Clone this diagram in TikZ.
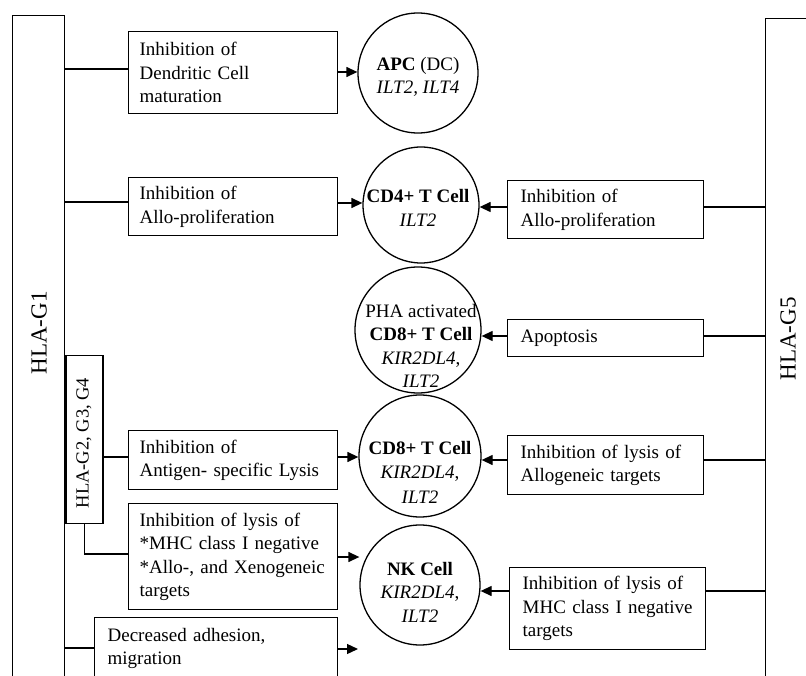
\documentclass[tikz,border=0pt]{standalone}
\usepackage{fontspec}
\setmainfont{Liberation Serif}
\usetikzlibrary{arrows.meta}
\newcommand{\boxfont}{\fontsize{19}{23.5}\selectfont}
\begin{document}
\begin{tikzpicture}[x=1pt,y=-1pt,line width=1.3pt,
  fbox/.style={draw, rectangle, anchor=north west, align=left, inner xsep=11pt, inner ysep=0pt, font=\boxfont, text width=187pt},
  rbox/.style={fbox, inner xsep=13pt, text width=170pt},
  cell/.style={draw, circle, inner sep=0pt},
  ctext/.style={align=center, font=\boxfont, inner sep=0pt},
  arr/.style={-{Triangle[length=11pt,width=10pt]}},
  side/.style={draw, rectangle, anchor=north west, inner sep=0pt}
]
\useasboundingbox (0,0) rectangle (806,676);
\fill[white] (0,0) rectangle (806,676);
\clip (0,0) rectangle (806,676);

% side bars
\node[side, minimum width=52pt, minimum height=690pt] (g1) at (12,15) {};
\node[side, minimum width=60pt, minimum height=690pt] (g5) at (765,18) {};
\node[side, minimum width=37pt, minimum height=168pt] (g2) at (g1.east |- 0,355) {};
\node[rotate=90, font=\fontsize{23}{28}\selectfont] (g1t) at (39,333) {HLA-G1};
\node[rotate=90, font=\fontsize{23}{28}\selectfont] (g5t) at (788,339) {HLA-G5};
\node[rotate=90, font=\fontsize{18.5}{22}\selectfont] (g2t) at (84,443) {HLA-G2, G3, G4};

% cells
\node[cell, minimum size=120pt] (apc) at (418,73) {};
\node[cell, minimum size=116pt] (cd4) at (421,205) {};
\node[cell, minimum size=126pt] (pha) at (418,330) {};
\node[cell, minimum size=122pt] (cd8) at (420,456) {};
\node[cell, minimum size=120pt] (nk) at (420,585) {};
\node[ctext] (apct) at (418,77) {\textbf{APC} (DC)\\\textit{ILT2, ILT4}};
\node[ctext] (cd4t) at (418,208) {\textbf{CD4+ T Cell}\\\textit{ILT2}};
\node[ctext] (phat) at (421,346) {PHA activated\\\textbf{CD8+ T Cell}\\\textit{KIR2DL4},\\\textit{ILT2}};
\node[ctext] (cd8t) at (420,472) {\textbf{CD8+ T Cell}\\[1pt]\textit{KIR2DL4},\\[1pt]\textit{ILT2}};
\node[ctext] (nkt) at (420,592) {\textbf{NK Cell}\\\textit{KIR2DL4},\\\textit{ILT2}};

% left boxes
\node[fbox, minimum height=82pt] (b1) at (128,31) {Inhibition of\\Dendritic Cell\\maturation};
\node[fbox, minimum height=58pt] (b2) at (128,177) {Inhibition of\\Allo-proliferation};
\node[fbox, minimum height=59pt] (ant) at (128,430) {Inhibition of\\Antigen- specific Lysis};
\node[fbox, minimum height=106pt] (lys) at (128,503) {Inhibition of lysis of\\{}*MHC class I negative\\{}*Allo-, and Xenogeneic\\targets};
\node[fbox, inner xsep=13pt, text width=217pt, minimum height=62pt] (dec) at (94,617) {Decreased adhesion,\\migration};

% right boxes
\node[rbox, minimum height=58pt] (rb2) at (507,180) {Inhibition of\\Allo-proliferation};
\node[rbox, minimum height=37pt] (ap) at (507,319) {Apoptosis};
\node[rbox, minimum height=59pt] (allog) at (507,435) {Inhibition of lysis of\\Allogeneic targets};
\node[rbox, minimum height=82pt] (mhc) at (509,567) {Inhibition of lysis of\\MHC class I negative\\targets};

% connectors from HLA-G1
\draw (g1.east |- 0,69) -- (b1.west |- 0,69);
\draw (g1.east |- 0,202) -- (b2.west |- 0,202);
\draw (g2.east |- 0,457) -- (ant.west |- 0,457);
\draw (g2.south) |- (lys.west |- 0,554);
\draw (g1.east |- 0,648) -- (dec.west |- 0,648);

% connectors from HLA-G5
\draw (g5.west |- 0,207) -- (rb2.east |- 0,207);
\draw (g5.west |- 0,336) -- (ap.east |- 0,336);
\draw (g5.west |- 0,460) -- (allog.east |- 0,460);
\draw (g5.west |- 0,591) -- (mhc.east |- 0,591);

% arrows
\draw[arr] (b1.east |- 0,72) -- (apc.west |- 0,72);
\draw[arr] (b2.east |- 0,203) -- (cd4.west |- 0,203);
\draw[arr] (ant.east |- 0,457) -- (cd8.west |- 0,457);
\draw[arr] (lys.east |- 0,557) -- (nk.west |- 0,557);
\coordinate (decend) at (358,649);
\draw[arr] (dec.east |- 0,649) -- (decend);
\draw[arr] (rb2.west |- 0,207) -- (cd4.east |- 0,207);
\draw[arr] (ap.west |- 0,336) -- (pha.east |- 0,336);
\draw[arr] (allog.west |- 0,460) -- (cd8.east |- 0,460);
\draw[arr] (mhc.west |- 0,591) -- (nk.east |- 0,591);
\end{tikzpicture}
\end{document}
